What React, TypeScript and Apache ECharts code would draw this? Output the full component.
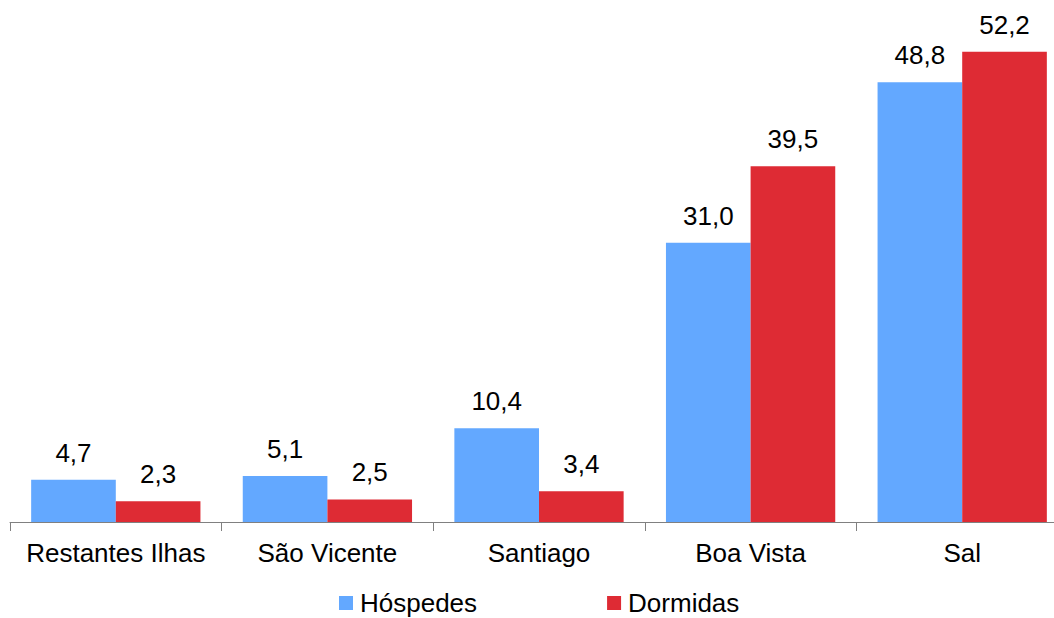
import React, { useEffect, useRef } from "react";
import * as echarts from "echarts";

const categories = ["Restantes Ilhas", "São Vicente", "Santiago", "Boa Vista", "Sal"];
const hospedes = [4.7, 5.1, 10.4, 31.0, 48.8];
const dormidas = [2.3, 2.5, 3.4, 39.5, 52.2];

const FONT = "Liberation Sans, Arial, sans-serif";

export default function App() {
  const ref = useRef<HTMLDivElement>(null);
  useEffect(() => {
    const chart = echarts.init(ref.current!, null, { renderer: "svg" });
    const label = {
      show: true,
      position: "top",
      distance: 14,
      fontSize: 26,
      fontFamily: FONT,
      color: "#000",
      formatter: (p: any) => p.value.toFixed(1).replace(".", ","),
    };
    chart.setOption({
      animation: false,
      backgroundColor: "#fff",
      textStyle: { fontFamily: FONT },
      grid: { left: 10, width: 1058, top: 26.5, height: 495.5, containLabel: false },
      legend: {
        left: 334,
        top: 585,
        itemWidth: 14,
        itemHeight: 14,
        itemGap: 130,
        icon: "rect",
        textStyle: { fontSize: 26, fontFamily: FONT, color: "#000", padding: [0, 0, 0, 2] },
        data: ["Hóspedes", "Dormidas"],
      },
      xAxis: {
        type: "category",
        data: categories,
        axisLine: { lineStyle: { color: "#808080", width: 1 } },
        axisTick: { show: true, length: 9, lineStyle: { color: "#808080" } },
        axisLabel: { fontSize: 26, fontFamily: FONT, color: "#000", margin: 18, interval: 0 },
      },
      yAxis: {
        type: "value",
        min: 0,
        max: 55,
        show: false,
        splitLine: { show: false },
      },
      series: [
        {
          name: "Hóspedes",
          type: "bar",
          data: hospedes,
          barWidth: "40%",
          barGap: "0%",
          itemStyle: { color: "#63A8FF" },
          label,
        },
        {
          name: "Dormidas",
          type: "bar",
          data: dormidas,
          barWidth: "40%",
          barGap: "0%",
          itemStyle: { color: "#DE2B34" },
          label,
        },
      ],
    });
    return () => chart.dispose();
  }, []);
  return (
    <div style={{ position: "absolute", left: 0, top: 0, width: 1054, height: 618, overflow: "hidden", background: "#fff" }}>
      <div ref={ref} style={{ width: 1080, height: 618 }} />
    </div>
  );
}
